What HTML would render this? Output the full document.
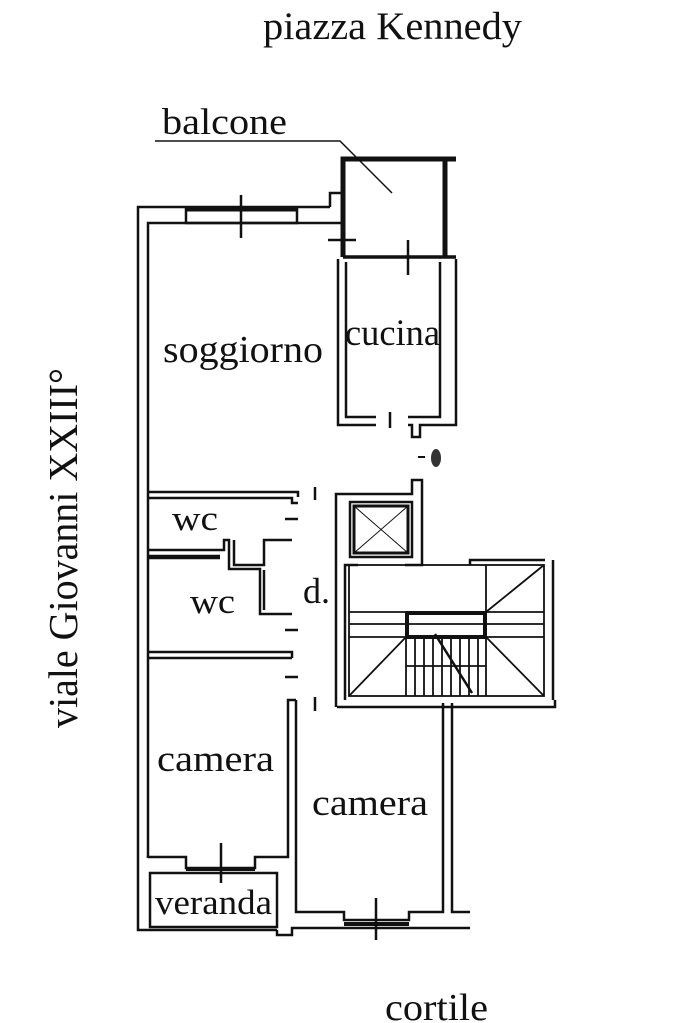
<!DOCTYPE html>
<html><head><meta charset="utf-8"><style>
html,body{margin:0;padding:0;background:#fff;width:683px;height:1023px;overflow:hidden}
svg{display:block}
text{font-family:"Liberation Serif",serif;fill:#111}
</style></head><body>
<svg width="683" height="1023" viewBox="0 0 683 1023" xmlns="http://www.w3.org/2000/svg">
<g fill="none" stroke="#111" stroke-width="2.5">
<polyline points="330,207 138,207 138,930 277,930"/>
<polyline points="342,223 148,223 148,858"/>
<rect x="186" y="209" width="111" height="14"/>
<line x1="186" y1="209" x2="297" y2="209" stroke-width="5"/>
<line x1="241" y1="195" x2="241" y2="238"/>
<polyline points="330,207 330,193 342,193"/>
<line x1="328" y1="240" x2="356" y2="240"/>
<polyline points="343,257 343,159 456,159" stroke-width="5"/>
<line x1="445" y1="159" x2="445" y2="257" stroke-width="5"/>
<line x1="343" y1="257" x2="456" y2="257" stroke-width="3.5"/>
<line x1="408" y1="240" x2="408" y2="275"/>
<polyline points="155,141 340,141 392,193" stroke-width="1.5"/>
<polyline points="338,259 338,425 376,425"/>
<polyline points="346,262 346,417 376,417"/>
<polyline points="456,259 456,417"/>
<polyline points="440,262 440,417 408,417"/>
<polyline points="456,417 456,425 420,425 420,437 412,437 412,425 408,425"/>
<line x1="390" y1="412" x2="390" y2="428"/>
<polyline points="148,492 298,492 298,497"/>
<polyline points="148,498 292,498 292,503 298,503"/>
<polyline points="148,550 224,550 224,540 229,540 229,569 260,569 260,614 292,614"/>
<polyline points="148,556 220,556"/>
<polyline points="148,558 220,558"/>
<polyline points="234,540 234,565 264,565 264,540 292,540"/>
<polyline points="264,610 264,570"/>
<polyline points="148,652 292,652 292,658"/>
<polyline points="148,658 292,658"/>
<line x1="315" y1="487" x2="315" y2="500"/>
<line x1="285" y1="519" x2="298" y2="519"/>
<line x1="285" y1="630" x2="298" y2="630"/>
<line x1="285" y1="677" x2="298" y2="677"/>
<line x1="315" y1="697" x2="315" y2="711"/>
<polyline points="148,858 148,857 186,857 186,868 255,868 255,857 288,857 288,700 296,700"/>
<line x1="186" y1="869" x2="255" y2="869" stroke-width="4"/>
<line x1="221" y1="843" x2="221" y2="883"/>
<rect x="150" y="873" width="127" height="54"/>
<polyline points="277,930 277,935 292,935 292,928 470,928"/>
<polyline points="296,700 296,912 344,912 344,920 409,920 409,912 443,912 443,703"/>
<line x1="344" y1="924" x2="409" y2="924" stroke-width="4"/>
<line x1="376" y1="898" x2="376" y2="940"/>
<polyline points="452,703 452,912 470,912"/>
<polyline points="336,707 336,494 345,494"/>
<polyline points="337,707 555,707 555,700"/>
<polyline points="345,700 345,565 358,565"/>
<polyline points="345,494 412,494 412,480 422,480 422,565 405,565"/>
<rect x="350" y="502" width="62" height="55"/>
<rect x="354" y="506" width="54" height="47" stroke-width="3"/>
<line x1="354" y1="506" x2="408" y2="553" stroke-width="1"/>
<line x1="408" y1="506" x2="354" y2="553" stroke-width="1"/>
<polyline points="470,565 470,560 545,560"/>
<line x1="553" y1="560" x2="553" y2="700"/>
<g stroke-width="1.8">
<rect x="349" y="565" width="195" height="131"/>
<line x1="349" y1="612" x2="544" y2="612"/>
<line x1="349" y1="624" x2="544" y2="624"/>
<line x1="349" y1="637" x2="544" y2="637"/>
<line x1="486" y1="565" x2="486" y2="696"/>
<line x1="406" y1="637" x2="406" y2="696"/>
<line x1="349" y1="696" x2="406" y2="637"/>
<line x1="544" y1="696" x2="486" y2="637"/>
<line x1="486" y1="612" x2="544" y2="565"/>
<line x1="406" y1="666" x2="486" y2="666"/>
<line x1="415" y1="637" x2="415" y2="696"/><line x1="424" y1="637" x2="424" y2="696"/>
<line x1="433" y1="637" x2="433" y2="696"/><line x1="442" y1="637" x2="442" y2="696"/>
<line x1="451" y1="637" x2="451" y2="696"/><line x1="460" y1="637" x2="460" y2="696"/>
<line x1="469" y1="637" x2="469" y2="696"/><line x1="478" y1="637" x2="478" y2="696"/>
<line x1="435" y1="634" x2="472" y2="693" stroke-width="2.5"/>
</g>
<rect x="407" y="613" width="78" height="24" stroke-width="4"/>
</g>
<line x1="418" y1="457" x2="425" y2="457" stroke="#111" stroke-width="2"/>
<ellipse cx="436" cy="458" rx="5" ry="9" fill="#333"/>
<text x="263" y="39" font-size="39" textLength="259" lengthAdjust="spacingAndGlyphs">piazza Kennedy</text>
<text x="162" y="134" font-size="37" textLength="125" lengthAdjust="spacingAndGlyphs">balcone</text>
<text x="163" y="362" font-size="38" textLength="160" lengthAdjust="spacingAndGlyphs">soggiorno</text>
<text x="345" y="345" font-size="37" textLength="95" lengthAdjust="spacingAndGlyphs">cucina</text>
<text x="172" y="530" font-size="35" textLength="46" lengthAdjust="spacingAndGlyphs">wc</text>
<text x="190" y="613" font-size="35" textLength="45" lengthAdjust="spacingAndGlyphs">wc</text>
<text x="303" y="603" font-size="36" textLength="27" lengthAdjust="spacingAndGlyphs">d.</text>
<text x="157" y="771" font-size="37" textLength="117" lengthAdjust="spacingAndGlyphs">camera</text>
<text x="312" y="815" font-size="37" textLength="116" lengthAdjust="spacingAndGlyphs">camera</text>
<text x="155" y="914" font-size="35" textLength="117" lengthAdjust="spacingAndGlyphs">veranda</text>
<text x="385" y="1020" font-size="38" textLength="103" lengthAdjust="spacingAndGlyphs">cortile</text>
<text transform="translate(77,728) rotate(-90)" font-size="41" textLength="360" lengthAdjust="spacingAndGlyphs">viale Giovanni XXIII°</text>
</svg>
</body></html>
